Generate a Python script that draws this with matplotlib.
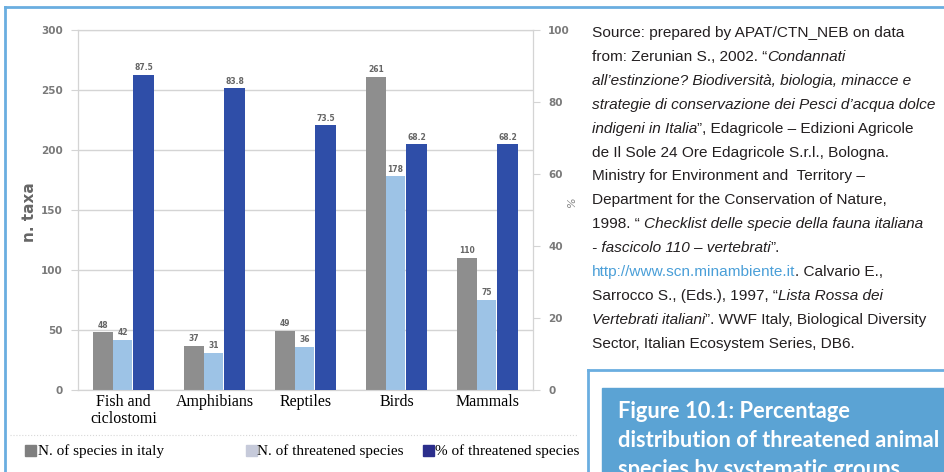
import matplotlib
matplotlib.use('Agg')
import matplotlib.pyplot as plt
from matplotlib.patches import Rectangle
from matplotlib.lines import Line2D
import numpy as np

# ---------------- data ----------------
categories = ["Fish and\nciclostomi", "Amphibians", "Reptiles", "Birds", "Mammals"]
n_species = [48, 37, 49, 261, 110]
n_threatened = [42, 31, 36, 178, 75]
pct_threatened = [87.5, 83.8, 73.5, 68.2, 68.2]
left_ticks = [0, 50, 100, 150, 200, 250, 300]
right_ticks = [0, 20, 40, 60, 80, 100]
legend_labels = ["N. of species in italy", "N. of threatened species", "% of threatened species"]

source_lines = [
    [("Source: prepared by APAT/CTN_NEB on data", "normal", None)],
    [("from: Zerunian S., 2002. \u201c", "normal", None), ("Condannati", "italic", None)],
    [("all\u2019estinzione? Biodiversit\u00e0, biologia, minacce e", "italic", None)],
    [("strategie di conservazione dei Pesci d\u2019acqua dolce", "italic", None)],
    [("indigeni in Italia", "italic", None), ("\u201d, Edagricole \u2013 Edizioni Agricole", "normal", None)],
    [("de Il Sole 24 Ore Edagricole S.r.l., Bologna.", "normal", None)],
    [("Ministry for Environment and  Territory \u2013", "normal", None)],
    [("Department for the Conservation of Nature,", "normal", None)],
    [("1998. \u201c ", "normal", None), ("Checklist delle specie della fauna italiana", "italic", None)],
    [("- fascicolo 110 \u2013 vertebrati", "italic", None), ("\u201d.", "normal", None)],
    [("http://www.scn.minambiente.it", "normal", "link"), (". Calvario E.,", "normal", None)],
    [("Sarrocco S., (Eds.), 1997, \u201c", "normal", None), ("Lista Rossa dei", "italic", None)],
    [("Vertebrati italiani", "italic", None), ("\u201d. WWF Italy, Biological Diversity", "normal", None)],
    [("Sector, Italian Ecosystem Series, DB6.", "normal", None)],
]
caption_lines = ["Figure 10.1: Percentage", "distribution of threatened animal",
                 "species by systematic groups"]

# ---------------- figure ----------------
W, H = 945, 472
fig = plt.figure(figsize=(W / 100, H / 100), dpi=100)
fig.patch.set_facecolor('white')


def fx(px):
    return px / W


def fy(py):
    return 1 - py / H


serif = ['Liberation Serif', 'DejaVu Serif']
body = ['Liberation Sans Narrow', 'Liberation Sans', 'DejaVu Sans']
bold_family = ['Lato', 'DejaVu Sans']

grid_c = '#d4d4d4'
tick_c = '#7a7a7a'

ax = fig.add_axes([fx(78), fy(390), fx(533) - fx(78), fy(30) - fy(390)])
ax2 = ax.twinx()

x = np.arange(len(categories))
w = 0.215
b1 = ax.bar(x - w - 0.01, n_species, w, color='#8e8e8e', zorder=3)
b2 = ax.bar(x - 0.01, n_threatened, w, color='#9dc3e6', zorder=3)
b3 = ax2.bar(x + w + 0.005, pct_threatened, w * 1.08, color='#2f4ea8', zorder=3)

ax.set_xlim(-0.5, len(categories) - 0.5)
ax.set_ylim(0, 300)
ax2.set_ylim(0, 100)
ax.set_yticks(left_ticks)
ax2.set_yticks(right_ticks)
ax.yaxis.grid(True, color=grid_c, lw=1, zorder=0)
ax.set_axisbelow(True)

for a in (ax, ax2):
    for s in a.spines.values():
        s.set_color(grid_c)
    a.tick_params(axis='y', colors=grid_c, labelcolor=tick_c, labelsize=7.5, length=5)
for lab in ax.get_yticklabels() + ax2.get_yticklabels():
    lab.set_fontweight('bold')
ax.tick_params(axis='y', pad=6)
ax2.tick_params(axis='y', pad=6)

ax.set_xticks(x)
ax.set_xticklabels(categories, fontfamily=serif, fontsize=11.5, color='black',
                   linespacing=1.05)
ax.tick_params(axis='x', length=0, pad=3)

# value labels
for bars, vals in ((b1, n_species), (b2, n_threatened)):
    for r, v in zip(bars, vals):
        ax.annotate(f"{v}", (r.get_x() + r.get_width() / 2, r.get_height()),
                    xytext=(0, 2), textcoords='offset points', ha='center', va='bottom',
                    fontsize=5.5, color='#666666', fontweight='bold', zorder=5)
for r, v in zip(b3, pct_threatened):
    ax2.annotate(f"{v}", (r.get_x() + r.get_width() / 2, r.get_height()),
                 xytext=(0, 2), textcoords='offset points', ha='center', va='bottom',
                 fontsize=5.5, color='#666666', fontweight='bold', zorder=5)

# axis titles
fig.text(fx(30), fy(212), "n. taxa", rotation=90, ha='center', va='center',
         fontsize=11, color='#666666', fontweight='bold')
fig.text(fx(572), fy(202), "%", rotation=90, ha='center', va='center',
         fontsize=8, color='#888888', fontstyle='italic')

# legend
leg_colors = ['#7f7f7f', '#c6cada', '#2b2e8c']
leg_patch_x = [25, 246, 423]
leg_text_x = [38, 257, 435]
for c, px, tx, lab in zip(leg_colors, leg_patch_x, leg_text_x, legend_labels):
    fig.patches.append(Rectangle((fx(px), fy(456)), fx(11), fy(445) - fy(456),
                                 transform=fig.transFigure, color=c))
    fig.text(fx(tx), fy(451), lab, ha='left', va='center', fontfamily=serif,
             fontsize=11, color='black')

# faint dotted line under chart
fig.lines.append(Line2D([fx(10), fx(578)], [fy(435), fy(435)], transform=fig.transFigure,
                        color='#d8d8d8', lw=0.8, ls=':'))

# page frame lines
frame_c = '#6aaee0'
fig.lines.append(Line2D([fx(5), 1], [fy(7), fy(7)], transform=fig.transFigure,
                        color=frame_c, lw=2))
fig.lines.append(Line2D([fx(5), fx(5)], [fy(7), 0], transform=fig.transFigure,
                        color=frame_c, lw=2))
fig.lines.append(Line2D([fx(588), 1], [fy(370), fy(370)], transform=fig.transFigure,
                        color=frame_c, lw=2))
fig.lines.append(Line2D([fx(588), fx(588)], [fy(370), 0], transform=fig.transFigure,
                        color=frame_c, lw=2))

# caption box
fig.patches.append(Rectangle((fx(602), 0), 1 - fx(602), fy(388),
                             transform=fig.transFigure, color='#5ba3d4'))

fig.canvas.draw()
renderer = fig.canvas.get_renderer()


def line_width(segs, size):
    total = 0
    for s, style, kind in segs:
        p = fig.text(0, 0, s, fontsize=size, fontfamily=body, fontstyle=style)
        total += p.get_window_extent(renderer).width
        p.remove()
    return total


# fit body font size so the first line and the widest line match the reference
w_first = line_width(source_lines[0], 10)
w_max = max(line_width(segs, 10) for segs in source_lines)
body_size = min(10 * 328 / w_first, 10 * 347 / w_max)

text_c = '#231f20'
link_c = '#4a9fd8'
y0 = 37
dy = 23.9
for i, segs in enumerate(source_lines):
    xx = 592
    yy = y0 + i * dy
    for s, style, kind in segs:
        t = fig.text(fx(xx), fy(yy), s, fontsize=body_size, fontfamily=body,
                     fontstyle=style, color=link_c if kind == 'link' else text_c,
                     ha='left', va='baseline')
        xx += t.get_window_extent(renderer).width

# caption text, fitted so the widest line fits in the box
cws = []
for line in caption_lines:
    p = fig.text(0, 0, line, fontsize=10, fontfamily=bold_family, fontweight='bold')
    cws.append(p.get_window_extent(renderer).width)
    p.remove()
cap_size = min(10 * 237 / cws[0], 10 * 322 / max(cws))
for i, line in enumerate(caption_lines):
    fig.text(fx(618), fy(418 + i * 29), line, fontsize=cap_size,
             fontfamily=bold_family, fontweight='bold', color='white',
             ha='left', va='baseline')

fig.savefig('out.png', dpi=100, facecolor='white')
